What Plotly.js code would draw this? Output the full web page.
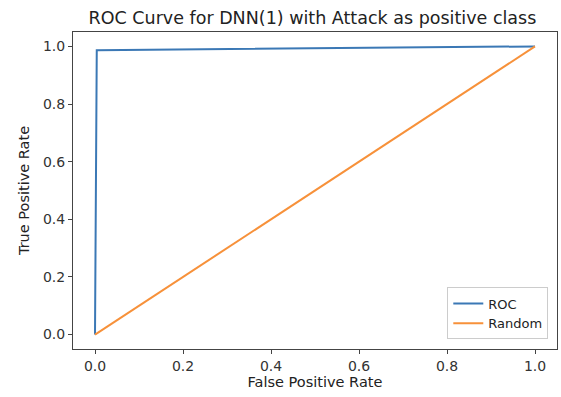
<!DOCTYPE html>
<html>
<head>
<meta charset="utf-8">
<script src="https://cdn.plot.ly/plotly-3.0.1.min.js"></script>
<style>html,body{margin:0;padding:0;background:#fff;}#chart{width:561px;height:397px;}</style>
</head>
<body>
<div id="chart"></div>
<script>
const rocFpr = [0, 0.004, 1];
const rocTpr = [0, 0.987, 1];
const randFpr = [0, 1];
const randTpr = [0, 1];
const seriesNames = ['ROC', 'Random'];
const tickVals = [0, 0.2, 0.4, 0.6, 0.8, 1.0];
const tickText = ['0.0', '0.2', '0.4', '0.6', '0.8', '1.0'];

const font = 'DejaVu Sans, sans-serif';
const traces = [
  {x: rocFpr, y: rocTpr, name: seriesNames[0], mode: 'lines', line: {color: '#3b78b5', width: 2}},
  {x: randFpr, y: randTpr, name: seriesNames[1], mode: 'lines', line: {color: '#f7913a', width: 2}}
];
const axisCommon = {
  showgrid: false, zeroline: false, showline: true, mirror: true,
  linecolor: '#444', linewidth: 1, ticks: 'outside', ticklen: 4, tickcolor: '#444',
  tickvals: tickVals, ticktext: tickText, tickfont: {family: font, size: 14, color: '#333'}
};
const layout = {
  width: 561, height: 397,
  margin: {l: 73, r: 4, t: 32, b: 48},
  paper_bgcolor: '#fff', plot_bgcolor: '#fff',
  font: {family: font, color: '#222'},
  title: {text: 'ROC Curve for DNN(1) with Attack as positive class', font: {family: font, size: 17.5, color: '#222'}, x: 0.557, xanchor: 'center', y: 0.955, yanchor: 'middle'},
  xaxis: Object.assign({}, axisCommon, {range: [-0.05, 1.05], title: {text: 'False Positive Rate', font: {family: font, size: 14.5, color: '#222'}, standoff: 4}}),
  yaxis: Object.assign({}, axisCommon, {range: [-0.05, 1.05], title: {text: 'True Positive Rate', font: {family: font, size: 14.5, color: '#222'}, standoff: 9}}),
  showlegend: true,
  legend: {x: 0.982, y: 0.03, xanchor: 'right', yanchor: 'bottom', bordercolor: '#ccc', borderwidth: 1, bgcolor: '#fff', font: {family: font, size: 13, color: '#222'}}
};
Plotly.newPlot('chart', traces, layout, {displayModeBar: false, staticPlot: true});
</script>
</body>
</html>
